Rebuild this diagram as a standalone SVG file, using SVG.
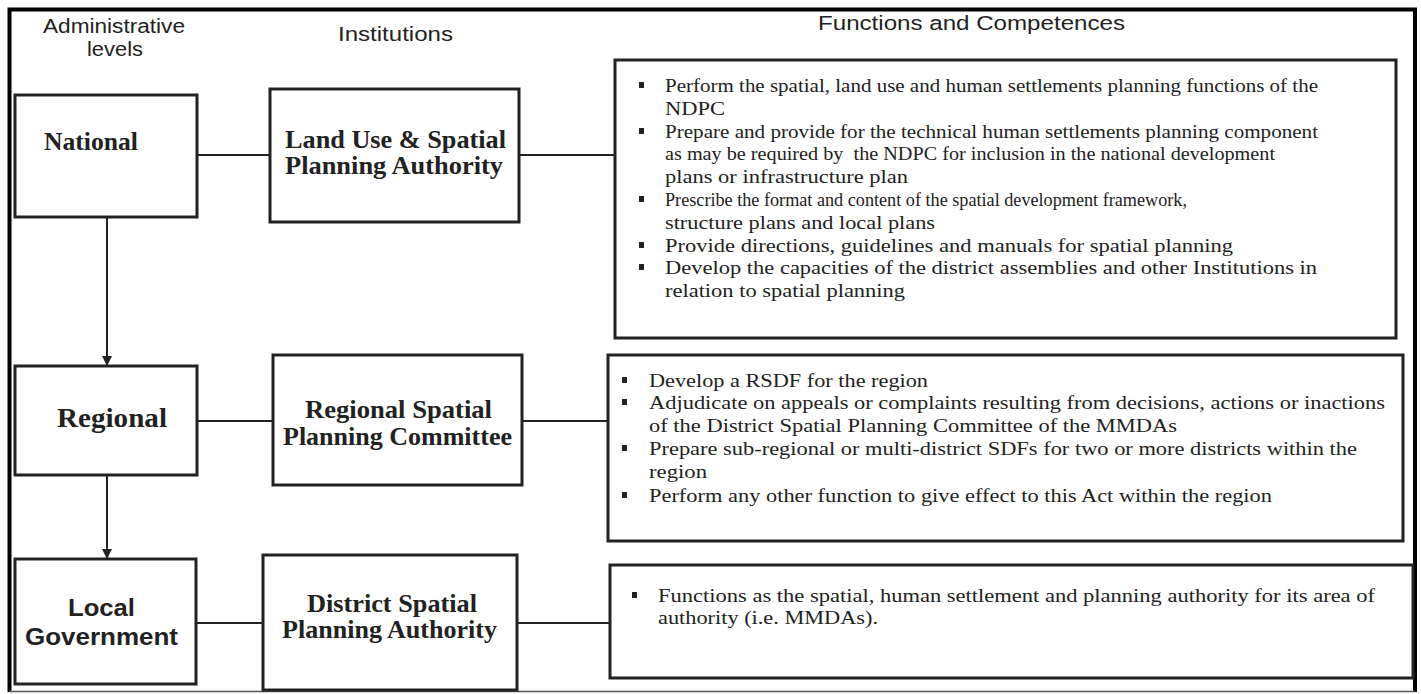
<svg xmlns="http://www.w3.org/2000/svg" width="1421" height="694" viewBox="0 0 1421 694">
<style>
.hdr{font-family:"Liberation Sans",Arial,sans-serif;font-size:20px;fill:#222}
.box{fill:#fff;stroke:#222;stroke-width:3}
.lvl{font-family:"Liberation Serif","Times New Roman",serif;font-weight:bold;font-size:25px;fill:#222}
.lvls{font-family:"Liberation Sans",Arial,sans-serif;font-weight:bold;font-size:23px;fill:#222}
.inst{font-family:"Liberation Serif","Times New Roman",serif;font-weight:bold;font-size:25px;fill:#222}
.fn{font-family:"Liberation Serif","Times New Roman",serif;font-size:19.5px;fill:#222}
.bul{fill:#222}
.con{stroke:#222;stroke-width:2;fill:none}
</style>
<defs>
<marker id="ah" viewBox="0 0 10 10" refX="10" refY="5" markerWidth="10" markerHeight="10" markerUnits="userSpaceOnUse" orient="auto">
<path d="M0,0 L10,5 L0,10 Z" fill="#222"/>
</marker>
</defs>
<rect width="1421" height="694" fill="#fff"/>
<g id="frame">
<path d="M9.5,692 L9.5,9.5 L1415,9.5 L1415,692" fill="none" stroke="#000" stroke-width="4"/>
<line x1="9.5" y1="691.5" x2="1415" y2="691.5" stroke="#555" stroke-width="1.5"/>
</g>
<g id="headers">
<text class="hdr" x="43" y="33" textLength="142" lengthAdjust="spacingAndGlyphs">Administrative</text>
<text class="hdr" x="87" y="56" textLength="56" lengthAdjust="spacingAndGlyphs">levels</text>
<text class="hdr" x="338" y="41" textLength="115" lengthAdjust="spacingAndGlyphs">Institutions</text>
<text class="hdr" x="818" y="30" textLength="307" lengthAdjust="spacingAndGlyphs">Functions and Competences</text>
</g>
<g id="connectors">
<line class="con" x1="107" y1="217" x2="107" y2="366" marker-end="url(#ah)"/>
<line class="con" x1="107" y1="475" x2="107" y2="559" marker-end="url(#ah)"/>
<line class="con" x1="197" y1="155" x2="270" y2="155"/>
<line class="con" x1="519" y1="155" x2="615" y2="155"/>
<line class="con" x1="197" y1="421" x2="273" y2="421"/>
<line class="con" x1="522" y1="421" x2="608" y2="421"/>
<line class="con" x1="196" y1="623" x2="263" y2="623"/>
<line class="con" x1="517" y1="623" x2="610" y2="623"/>
</g>
<g id="national">
<rect class="box" x="15" y="95" width="182" height="122"/>
<text class="lvl" x="44" y="150" textLength="94" lengthAdjust="spacingAndGlyphs">National</text>
</g>
<g id="regional">
<rect class="box" x="15" y="366" width="182" height="109"/>
<text class="lvl" x="57" y="427" textLength="110" lengthAdjust="spacingAndGlyphs" style="font-size:27px">Regional</text>
</g>
<g id="local">
<rect class="box" x="15" y="559" width="181" height="125"/>
<text class="lvls" x="68" y="616" textLength="67" lengthAdjust="spacingAndGlyphs">Local</text>
<text class="lvls" x="25" y="645" textLength="153" lengthAdjust="spacingAndGlyphs">Government</text>
</g>
<g id="landuse">
<rect class="box" x="270" y="89" width="249" height="133"/>
<text class="inst" x="285" y="148" textLength="221" lengthAdjust="spacingAndGlyphs">Land Use &amp; Spatial</text>
<text class="inst" x="285" y="174" textLength="218" lengthAdjust="spacingAndGlyphs">Planning Authority</text>
</g>
<g id="rspc">
<rect class="box" x="273" y="355" width="249" height="130"/>
<text class="inst" x="305" y="418" textLength="187" lengthAdjust="spacingAndGlyphs">Regional Spatial</text>
<text class="inst" x="283" y="445" textLength="229" lengthAdjust="spacingAndGlyphs">Planning Committee</text>
</g>
<g id="dspa">
<rect class="box" x="263" y="555" width="254" height="135"/>
<text class="inst" x="307" y="612" textLength="170" lengthAdjust="spacingAndGlyphs">District Spatial</text>
<text class="inst" x="282" y="638" textLength="215" lengthAdjust="spacingAndGlyphs">Planning Authority</text>
</g>
<g id="func-national">
<rect class="box" x="615" y="60" width="781" height="278"/>
<rect class="bul" x="639" y="82" width="5" height="6"/>
<rect class="bul" x="639" y="128" width="5" height="6"/>
<rect class="bul" x="639" y="196" width="5" height="6"/>
<rect class="bul" x="639" y="242" width="5" height="6"/>
<rect class="bul" x="639" y="264" width="5" height="6"/>
<text class="fn" x="665" y="92" textLength="653" lengthAdjust="spacingAndGlyphs">Perform the spatial, land use and human settlements planning functions of the</text>
<text class="fn" x="665" y="115" textLength="60" lengthAdjust="spacingAndGlyphs">NDPC</text>
<text class="fn" x="665" y="138" textLength="653" lengthAdjust="spacingAndGlyphs">Prepare and provide for the technical human settlements planning component</text>
<text class="fn" x="665" y="160" textLength="610" lengthAdjust="spacingAndGlyphs" xml:space="preserve">as may be required by  the NDPC for inclusion in the national development</text>
<text class="fn" x="665" y="183" textLength="243" lengthAdjust="spacingAndGlyphs">plans or infrastructure plan</text>
<text class="fn" x="665" y="206" textLength="522" lengthAdjust="spacingAndGlyphs">Prescribe the format and content of the spatial development framework,</text>
<text class="fn" x="665" y="229" textLength="270" lengthAdjust="spacingAndGlyphs">structure plans and local plans</text>
<text class="fn" x="665" y="252" textLength="568" lengthAdjust="spacingAndGlyphs">Provide directions, guidelines and manuals for spatial planning</text>
<text class="fn" x="665" y="274" textLength="652" lengthAdjust="spacingAndGlyphs">Develop the capacities of the district assemblies and other Institutions in</text>
<text class="fn" x="665" y="297" textLength="240" lengthAdjust="spacingAndGlyphs">relation to spatial planning</text>
</g>
<g id="func-regional">
<rect class="box" x="608" y="355" width="795" height="186"/>
<rect class="bul" x="622" y="377" width="5" height="6"/>
<rect class="bul" x="622" y="399" width="5" height="6"/>
<rect class="bul" x="622" y="445" width="5" height="6"/>
<rect class="bul" x="622" y="492" width="5" height="6"/>
<text class="fn" x="649" y="387" textLength="279" lengthAdjust="spacingAndGlyphs">Develop a RSDF for the region</text>
<text class="fn" x="649" y="409" textLength="736" lengthAdjust="spacingAndGlyphs">Adjudicate on appeals or complaints resulting from decisions, actions or inactions</text>
<text class="fn" x="649" y="432" textLength="528" lengthAdjust="spacingAndGlyphs">of the District Spatial Planning Committee of the MMDAs</text>
<text class="fn" x="649" y="455" textLength="708" lengthAdjust="spacingAndGlyphs">Prepare sub-regional or multi-district SDFs for two or more districts within the</text>
<text class="fn" x="649" y="478" textLength="58" lengthAdjust="spacingAndGlyphs">region</text>
<text class="fn" x="649" y="502" textLength="623" lengthAdjust="spacingAndGlyphs">Perform any other function to give effect to this Act within the region</text>
</g>
<g id="func-local">
<rect class="box" x="610" y="565" width="803" height="113"/>
<rect class="bul" x="632" y="592" width="5" height="6"/>
<text class="fn" x="658" y="602" textLength="717" lengthAdjust="spacingAndGlyphs">Functions as the spatial, human settlement and planning authority for its area of</text>
<text class="fn" x="658" y="624" textLength="220" lengthAdjust="spacingAndGlyphs">authority (i.e. MMDAs).</text>
</g>
</svg>
